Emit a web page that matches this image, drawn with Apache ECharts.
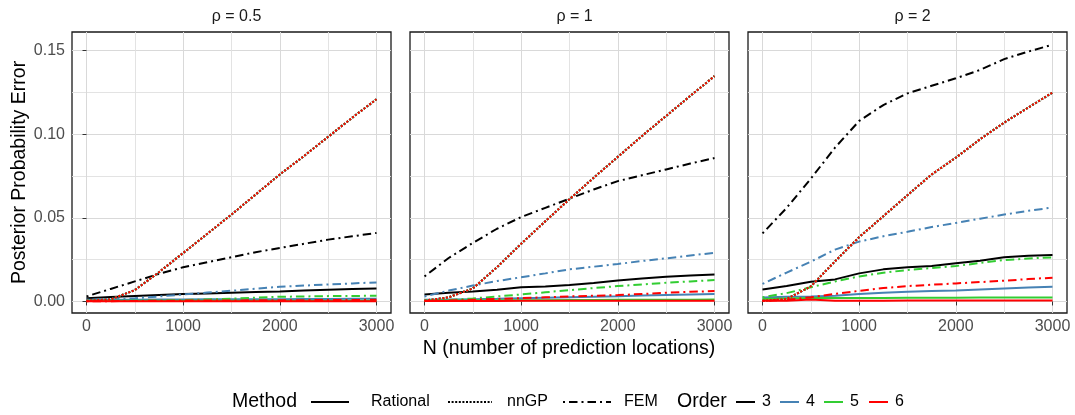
<!DOCTYPE html>
<html>
<head>
<meta charset="utf-8">
<script src="https://cdn.jsdelivr.net/npm/echarts@6/dist/echarts.min.js"></script>
<style>
html, body { margin: 0; padding: 0; background: #fff; }
#chart { width: 1075px; height: 415px; }
</style>
</head>
<body>
<div id="chart"></div>
<script>
// data
var N = [0, 250, 500, 750, 1000, 1250, 1500, 1750, 2000, 2250, 2500, 2750, 3000];
var panelTitles = ['ρ = 0.5', 'ρ = 1', 'ρ = 2'];
var orders = ['3', '4', '5', '6'];
var methods = ['Rational', 'nnGP', 'FEM'];
var xTicks = [0, 1000, 2000, 3000];
var xMinor = [500, 1500, 2500];
var yTicks = [0, 0.05, 0.10, 0.15];
var yMinor = [0.025, 0.075, 0.125];

// rho = 0.5
var p1Rat3 = [0.0019, 0.0026, 0.0032, 0.0038, 0.0044, 0.0048, 0.0052, 0.0056, 0.0060, 0.0065, 0.0070, 0.0074, 0.0078];
var p1Rat4 = [0.0010, 0.0011, 0.0011, 0.0012, 0.0012, 0.0013, 0.0013, 0.0014, 0.0014, 0.0015, 0.0015, 0.0016, 0.0016];
var p1Rat5 = [0.0004, 0.0004, 0.0004, 0.0004, 0.0004, 0.0005, 0.0005, 0.0005, 0.0005, 0.0005, 0.0005, 0.0005, 0.0005];
var p1Rat6 = [0.0002, 0.0002, 0.0002, 0.0002, 0.0002, 0.0002, 0.0002, 0.0002, 0.0002, 0.0002, 0.0002, 0.0002, 0.0002];
var p1NnGP = [0.0005, 0.0012, 0.0068, 0.0175, 0.0290, 0.0405, 0.0520, 0.0640, 0.0760, 0.0870, 0.0985, 0.1100, 0.1210];
var p1Fem3 = [0.0030, 0.0075, 0.0120, 0.0165, 0.0205, 0.0235, 0.0265, 0.0295, 0.0320, 0.0345, 0.0370, 0.0390, 0.0410];
var p1Fem4 = [0.0010, 0.0013, 0.0019, 0.0030, 0.0042, 0.0053, 0.0064, 0.0076, 0.0088, 0.0095, 0.0102, 0.0108, 0.0114];
var p1Fem5 = [0.0003, 0.0003, 0.0004, 0.0006, 0.0008, 0.0012, 0.0017, 0.0023, 0.0028, 0.0030, 0.0032, 0.0033, 0.0034];
var p1Fem6 = [0.0002, 0.0002, 0.0003, 0.0004, 0.0005, 0.0006, 0.0006, 0.0007, 0.0008, 0.0008, 0.0009, 0.0009, 0.0010];

// rho = 1
var p2Rat3 = [0.0042, 0.0052, 0.0060, 0.0070, 0.0085, 0.0090, 0.0098, 0.0110, 0.0125, 0.0137, 0.0148, 0.0156, 0.0162];
var p2Rat4 = [0.0010, 0.0012, 0.0014, 0.0016, 0.0019, 0.0022, 0.0025, 0.0028, 0.0031, 0.0035, 0.0038, 0.0041, 0.0044];
var p2Rat5 = [0.0006, 0.0006, 0.0007, 0.0007, 0.0008, 0.0008, 0.0009, 0.0009, 0.0010, 0.0010, 0.0011, 0.0011, 0.0012];
var p2Rat6 = [0.0003, 0.0003, 0.0003, 0.0003, 0.0004, 0.0004, 0.0004, 0.0004, 0.0004, 0.0004, 0.0004, 0.0004, 0.0004];
var p2NnGP = [0.0005, 0.0025, 0.0078, 0.0205, 0.0345, 0.0480, 0.0612, 0.0740, 0.0865, 0.0990, 0.1110, 0.1230, 0.1348];
var p2Fem3 = [0.0150, 0.0260, 0.0350, 0.0435, 0.0505, 0.0560, 0.0615, 0.0670, 0.0720, 0.0755, 0.0790, 0.0825, 0.0858];
var p2Fem4 = [0.0030, 0.0065, 0.0095, 0.0122, 0.0145, 0.0168, 0.0192, 0.0208, 0.0224, 0.0242, 0.0258, 0.0275, 0.0291];
var p2Fem5 = [0.0005, 0.0008, 0.0018, 0.0030, 0.0042, 0.0055, 0.0068, 0.0080, 0.0092, 0.0102, 0.0112, 0.0120, 0.0128];
var p2Fem6 = [0.0003, 0.0005, 0.0010, 0.0015, 0.0020, 0.0025, 0.0030, 0.0034, 0.0038, 0.0045, 0.0052, 0.0058, 0.0062];

// rho = 2
var p3Rat3 = [0.0072, 0.0092, 0.0118, 0.0132, 0.0168, 0.0192, 0.0204, 0.0212, 0.0228, 0.0244, 0.0264, 0.0274, 0.0278];
var p3Rat4 = [0.0024, 0.0028, 0.0030, 0.0034, 0.0045, 0.0052, 0.0058, 0.0062, 0.0066, 0.0072, 0.0078, 0.0084, 0.0088];
var p3Rat5 = [0.0015, 0.0018, 0.0020, 0.0020, 0.0021, 0.0021, 0.0022, 0.0022, 0.0022, 0.0023, 0.0023, 0.0023, 0.0023];
var p3Rat6 = [0.0004, 0.0005, 0.0012, 0.0004, 0.0005, 0.0005, 0.0006, 0.0006, 0.0006, 0.0006, 0.0006, 0.0006, 0.0006];
var p3NnGP = [0.0005, 0.0015, 0.0090, 0.0240, 0.0385, 0.0510, 0.0636, 0.0760, 0.0860, 0.0970, 0.1070, 0.1160, 0.1250];
var p3Fem3 = [0.0407, 0.0560, 0.0735, 0.0920, 0.1080, 0.1175, 0.1245, 0.1290, 0.1335, 0.1385, 0.1450, 0.1495, 0.1536];
var p3Fem4 = [0.0105, 0.0173, 0.0238, 0.0310, 0.0358, 0.0390, 0.0417, 0.0445, 0.0470, 0.0495, 0.0520, 0.0542, 0.0562];
var p3Fem5 = [0.0025, 0.0050, 0.0085, 0.0120, 0.0150, 0.0172, 0.0188, 0.0200, 0.0212, 0.0230, 0.0248, 0.0257, 0.0264];
var p3Fem6 = [0.0003, 0.0010, 0.0025, 0.0045, 0.0064, 0.0080, 0.0092, 0.0100, 0.0108, 0.0116, 0.0124, 0.0134, 0.0142];

var panels = [
    { Rational: [p1Rat3, p1Rat4, p1Rat5, p1Rat6], nnGP: [p1NnGP, p1NnGP, p1NnGP, p1NnGP], FEM: [p1Fem3, p1Fem4, p1Fem5, p1Fem6] },
    { Rational: [p2Rat3, p2Rat4, p2Rat5, p2Rat6], nnGP: [p2NnGP, p2NnGP, p2NnGP, p2NnGP], FEM: [p2Fem3, p2Fem4, p2Fem5, p2Fem6] },
    { Rational: [p3Rat3, p3Rat4, p3Rat5, p3Rat6], nnGP: [p3NnGP, p3NnGP, p3NnGP, p3NnGP], FEM: [p3Fem3, p3Fem4, p3Fem5, p3Fem6] }
];

// styles
var colors = ['#000000', '#4682B4', '#32CD32', '#FF0000'];
var dashes = { Rational: 'solid', nnGP: [2, 1.6], FEM: [2, 4, 8.5, 4] };
var font = '"Liberation Sans", Arial, Helvetica, sans-serif';
var lw = 2;
var gridLeft = [72, 410, 748];
var gridW = 319;
var gridTop = 32;
var gridH = 281;

var grids = [], xAxes = [], yAxes = [], titles = [], series = [];

gridLeft.forEach(function (left, p) {
    grids.push({
        left: left, top: gridTop, width: gridW, height: gridH,
        show: true, borderColor: '#1a1a1a', borderWidth: 1.3, backgroundColor: 'transparent'
    });
    // major x
    xAxes.push({
        type: 'value', gridIndex: p, min: -150, max: 3150,
        axisLine: { show: false },
        axisTick: { show: true, length: 4, customValues: xTicks, lineStyle: { color: '#333' } },
        axisLabel: {
            show: true, customValues: xTicks, margin: 6, color: '#4d4d4d', fontSize: 16, fontFamily: font,
            formatter: function (v) { return String(v); }
        },
        splitLine: { show: true, lineStyle: { color: '#d9d9d9', width: 1 } }
    });
    // minor x
    xAxes.push({
        type: 'value', gridIndex: p, min: -150, max: 3150,
        axisLine: { show: false },
        axisTick: { show: false, customValues: xMinor },
        axisLabel: { show: false, customValues: xMinor },
        splitLine: { show: true, lineStyle: { color: '#e0e0e0', width: 0.9 } }
    });
    yAxes.push({
        type: 'value', gridIndex: p, min: -0.0069, max: 0.1612,
        axisLine: { show: false },
        axisTick: { show: p == 0, length: 4, customValues: yTicks, lineStyle: { color: '#333' } },
        axisLabel: {
            show: p == 0, customValues: yTicks, margin: 7, color: '#4d4d4d', fontSize: 16, fontFamily: font,
            formatter: function (v) { return v.toFixed(2); }
        },
        splitLine: { show: true, lineStyle: { color: '#d9d9d9', width: 1 } },
        name: p == 0 ? 'Posterior Probability Error' : '',
        nameLocation: 'middle', nameGap: 42,
        nameTextStyle: { color: '#000', fontSize: 19.5, fontFamily: font }
    });
    yAxes.push({
        type: 'value', gridIndex: p, min: -0.0069, max: 0.1612,
        axisLine: { show: false },
        axisTick: { show: false, customValues: yMinor },
        axisLabel: { show: false, customValues: yMinor },
        splitLine: { show: true, lineStyle: { color: '#e0e0e0', width: 0.9 } }
    });
    titles.push({
        text: panelTitles[p], left: left + gridW / 2, top: 4, textAlign: 'center',
        textStyle: { color: '#1a1a1a', fontSize: 16, fontWeight: 'normal', fontFamily: font }
    });

    // lines, order 6 drawn last
    orders.forEach(function (o, k) {
        methods.forEach(function (m) {
            var vals = panels[p][m][k];
            series.push({
                name: m + ' ' + o,
                type: 'line',
                xAxisIndex: p * 2,
                yAxisIndex: p * 2,
                showSymbol: false,
                symbol: 'none',
                animation: false,
                data: N.map(function (n, j) { return [n, vals[j]]; }),
                lineStyle: { color: colors[k], width: lw, type: dashes[m], cap: 'butt' }
            });
        });
    });
});

// legend
var ly = 402;
var graphics = [
    { type: 'text', x: 569, y: 348.5, style: { text: 'N (number of prediction locations)', fill: '#000', font: '19.5px ' + font, align: 'center', verticalAlign: 'middle' } },
    { type: 'text', x: 232, y: ly, style: { text: 'Method', fill: '#000', font: '19.5px ' + font, align: 'left', verticalAlign: 'middle' } },
    { type: 'line', shape: { x1: 311, y1: ly, x2: 349, y2: ly }, style: { stroke: '#000', lineWidth: lw } },
    { type: 'text', x: 371, y: ly, style: { text: 'Rational', fill: '#000', font: '16px ' + font, align: 'left', verticalAlign: 'middle' } },
    { type: 'line', shape: { x1: 448, y1: ly, x2: 492, y2: ly }, style: { stroke: '#000', lineWidth: lw, lineDash: dashes.nnGP } },
    { type: 'text', x: 507, y: ly, style: { text: 'nnGP', fill: '#000', font: '16px ' + font, align: 'left', verticalAlign: 'middle' } },
    { type: 'line', shape: { x1: 563, y1: ly, x2: 611, y2: ly }, style: { stroke: '#000', lineWidth: lw, lineDash: dashes.FEM } },
    { type: 'text', x: 624, y: ly, style: { text: 'FEM', fill: '#000', font: '16px ' + font, align: 'left', verticalAlign: 'middle' } },
    { type: 'text', x: 677, y: ly, style: { text: 'Order', fill: '#000', font: '19.5px ' + font, align: 'left', verticalAlign: 'middle' } }
];
var orderX = [736, 780, 824, 869];
orders.forEach(function (o, k) {
    graphics.push({ type: 'line', shape: { x1: orderX[k], y1: ly, x2: orderX[k] + 19, y2: ly }, style: { stroke: colors[k], lineWidth: lw } });
    graphics.push({ type: 'text', x: orderX[k] + 26, y: ly, style: { text: o, fill: '#000', font: '16px ' + font, align: 'left', verticalAlign: 'middle' } });
});

var chart = echarts.init(document.getElementById('chart'));
chart.setOption({
    animation: false,
    backgroundColor: '#fff',
    title: titles,
    grid: grids,
    xAxis: xAxes,
    yAxis: yAxes,
    series: series,
    graphic: graphics
});
</script>
</body>
</html>
